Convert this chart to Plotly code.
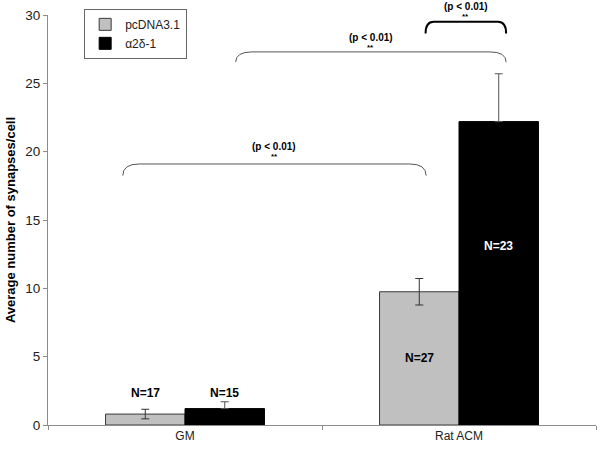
import plotly.graph_objects as go

# data
conditions = ["GM", "Rat ACM"]
pcdna_mean = [0.8, 9.75]
pcdna_err = [0.35, 0.97]
a2d1_mean = [1.2, 22.2]
a2d1_err = [0.5, 3.5]
pcdna_n = ["N=17", "N=27"]
a2d1_n = ["N=15", "N=23"]
p_label = "(p < 0.01)"

FONT = "Liberation Sans, Arial, sans-serif"
AX_GREY = "#8c8c8c"

fig = go.Figure()

fig.add_trace(go.Bar(
    x=conditions, y=pcdna_mean, name="pcDNA3.1",
    marker=dict(color="#c0c0c0", line=dict(color="#3a3a3a", width=1)),
    error_y=dict(type="data", array=pcdna_err, color="#333333", thickness=1, width=4),
))
# only the upper whisker shows over the black bars
fig.add_trace(go.Bar(
    x=conditions, y=a2d1_mean, name="\u03b12\u03b4-1",
    marker=dict(color="#000000", line=dict(color="#000000", width=1)),
    error_y=dict(type="data", symmetric=False, array=a2d1_err,
                 arrayminus=[0] * len(a2d1_err),
                 color="#555555", thickness=1, width=4),
))

# N labels over / inside the bars
off = 0.145
n_pos = [(0 - off, 2.35, pcdna_n[0], "black"),
         (0 + off, 2.35, a2d1_n[0], "black"),
         (1 - off, 4.9, pcdna_n[1], "black"),
         (1 + off, 13.1, a2d1_n[1], "white")]
for x, y, t, c in n_pos:
    fig.add_annotation(x=x, y=y, text="<b>%s</b>" % t, showarrow=False,
                       font=dict(family=FONT, size=12, color=c))

# significance brackets: x0, x1, top, drop, corner, colour, width, text shift
brackets = [
    (-0.227, 0.880, 19.1, 0.85, 0.06, "#555555", 1, 17),
    (0.185, 1.172, 27.3, 0.75, 0.06, "#555555", 1, 14),
    (0.878, 1.172, 29.5, 0.85, 0.03, "#000000", 2, 15),
]
for x0, x1, yt, dy, dx, col, w, sh in brackets:
    ye = yt - dy
    path = (f"M {x0},{ye} Q {x0},{yt} {x0 + dx},{yt} "
            f"L {x1 - dx},{yt} Q {x1},{yt} {x1},{ye}")
    fig.add_shape(type="path", path=path, xref="x", yref="y",
                  line=dict(color=col, width=w))
    xm = (x0 + x1) / 2
    fig.add_annotation(x=xm, y=yt, yshift=sh, text="<b>%s</b>" % p_label,
                       showarrow=False, font=dict(family=FONT, size=10, color="black"))
    fig.add_annotation(x=xm, y=yt, yshift=sh - 10, text="<b>**</b>",
                       showarrow=False, font=dict(family=FONT, size=8, color="black"))

fig.update_layout(
    width=600, height=451,
    margin=dict(l=48, r=4, t=15, b=26, autoexpand=False),
    paper_bgcolor="white", plot_bgcolor="white",
    barmode="group", bargap=0.42, bargroupgap=0,
    font=dict(family=FONT, size=12, color="#222222"),
    showlegend=True,
    legend=dict(x=0.066, y=1.015, xanchor="left", yanchor="top",
                bgcolor="white", bordercolor="#666666", borderwidth=1,
                font=dict(family=FONT, size=12, color="#222222"),
                itemwidth=30, tracegroupgap=0),
)
fig.update_xaxes(
    showline=True, linecolor=AX_GREY, linewidth=1, automargin=False,
    ticks="outside", tickson="boundaries", ticklen=4, tickcolor=AX_GREY,
    showgrid=False, range=[-0.5, 1.5],
    tickfont=dict(family=FONT, size=12, color="#222222"),
)
fig.update_yaxes(
    range=[0, 30], dtick=5, showline=True, linecolor=AX_GREY, linewidth=1,
    automargin=False,
    ticks="outside", ticklen=4, tickcolor=AX_GREY, showgrid=False, zeroline=False,
    tickfont=dict(family=FONT, size=13.5, color="#222222"),
    title=dict(text="<b>Average number of synapses/cell</b>",
               font=dict(family=FONT, size=13, color="black"), standoff=6),
)

# drop the default 8px page margin so the figure sits at the window corner
fig.write_html("out.html", config={"displayModeBar": False},
               post_script="document.body.style.margin = '0';")
